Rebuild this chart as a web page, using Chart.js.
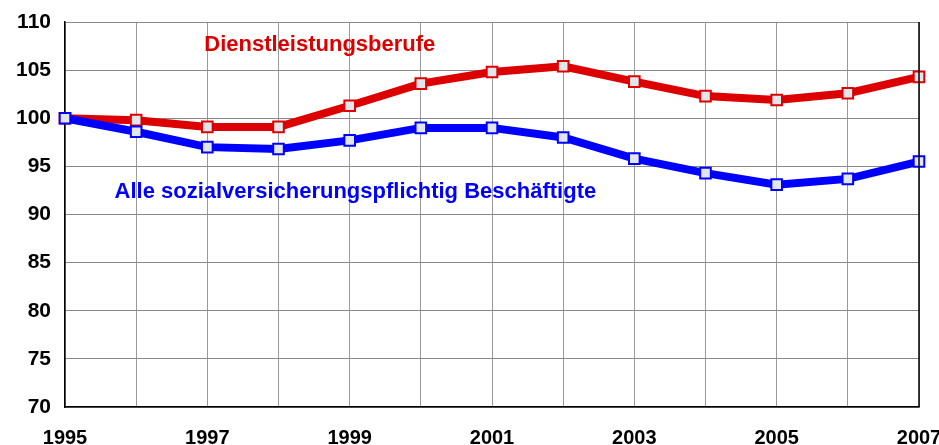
<!DOCTYPE html>
<html>
<head>
<meta charset="utf-8">
<script src="https://cdn.jsdelivr.net/npm/chart.js@4"></script>
<style>
  html, body { margin: 0; padding: 0; background: #fff; }
  #wrap { width: 939px; height: 445px; }
</style>
</head>
<body>
<div id="wrap"><canvas id="chart"></canvas></div>
<script>
const years = ['1995','1996','1997','1998','1999','2000','2001','2002','2003','2004','2005','2006','2007'];
const dienstleistung = [100, 99.8, 99.1, 99.1, 101.3, 103.6, 104.8, 105.4, 103.8, 102.3, 101.9, 102.6, 104.3];
const alleBeschaeftigte = [100, 98.6, 97.0, 96.8, 97.7, 99.0, 99.0, 98.0, 95.8, 94.3, 93.1, 93.7, 95.5];
const seriesNames = ['Dienstleistungsberufe', 'Alle sozialversicherungspflichtig Beschäftigte'];

Chart.defaults.font.family = '"Liberation Sans", Arial, sans-serif';

// series names written inside the plot, like in the original
const labelPlugin = {
  id: 'seriesLabels',
  afterDatasetsDraw(chart) {
    const { ctx, scales: { x, y }, chartArea } = chart;
    ctx.save();
    ctx.font = 'bold 22px "Liberation Sans", Arial, sans-serif';
    ctx.textAlign = 'center';
    ctx.textBaseline = 'middle';
    ctx.fillStyle = '#dd0000';
    ctx.fillText(seriesNames[0], x.getPixelForValue(3.58), y.getPixelForValue(107.6));
    ctx.fillStyle = '#0000ff';
    ctx.fillText(seriesNames[1], x.getPixelForValue(4.08), y.getPixelForValue(92.3));
    // right frame line
    ctx.strokeStyle = '#000';
    ctx.lineWidth = 1.5;
    ctx.beginPath();
    ctx.moveTo(chartArea.right, chartArea.top);
    ctx.lineTo(chartArea.right, chartArea.bottom);
    ctx.stroke();
    ctx.restore();
  }
};

const pointStyleFor = (color) => ({
  borderColor: color,
  backgroundColor: color,
  borderWidth: 8,
  pointStyle: 'rect',
  pointRadius: 7.5,
  pointBorderWidth: 2,
  pointBorderColor: color,
  pointBackgroundColor: '#e2e6ea',
  tension: 0
});

new Chart(document.getElementById('chart'), {
  type: 'line',
  data: {
    labels: years,
    datasets: [
      { label: seriesNames[1], data: alleBeschaeftigte, ...pointStyleFor('#0000ff') },
      { label: seriesNames[0], data: dienstleistung, ...pointStyleFor('#dd0000') }
    ]
  },
  options: {
    responsive: true,
    maintainAspectRatio: false,
    animation: false,
    layout: { padding: { top: 22, right: 20, left: 0, bottom: 0 } },
    plugins: {
      legend: { display: false },
      tooltip: { enabled: false }
    },
    scales: {
      x: {
        offset: false,
        grid: { color: '#9a9a9a', lineWidth: 1, drawTicks: false },
        border: { color: '#000', width: 1.5 },
        ticks: {
          autoSkip: false,
          maxRotation: 0,
          padding: 19,
          color: '#000',
          font: { size: 20, weight: 'bold' },
          callback: function (val, i) { return i % 2 === 0 ? years[i] : ''; }
        },
        afterFit(scale) {
          scale.height = 38;
          scale.paddingLeft = 0;
          scale.paddingRight = 0;
        }
      },
      y: {
        min: 70,
        max: 110,
        grid: { color: '#8a8a8a', lineWidth: 1, drawTicks: false },
        border: { color: '#000', width: 1.5 },
        ticks: {
          stepSize: 5,
          padding: 14,
          color: '#000',
          font: { size: 21, weight: 'bold' }
        },
        afterFit(scale) {
          scale.width = 65;
          scale.paddingTop = 0;
          scale.paddingBottom = 0;
        }
      }
    }
  },
  plugins: [labelPlugin]
});
</script>
</body>
</html>
